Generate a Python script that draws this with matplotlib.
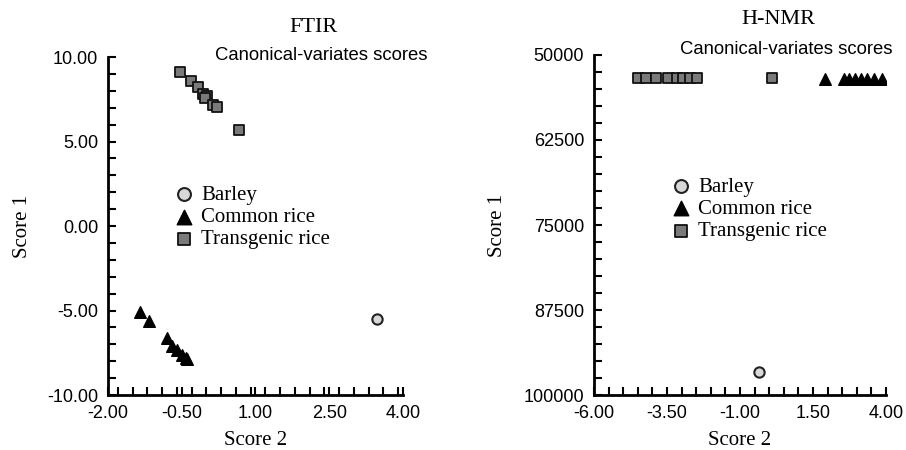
import numpy as np
import matplotlib.pyplot as plt
from matplotlib.ticker import MultipleLocator, FormatStrFormatter

# FTIR panel data
ftir_trans_x = [-0.54, -0.31, -0.17, -0.07, 0.01, -0.03, 0.13, 0.22, 0.66]
ftir_trans_y = [9.11, 8.58, 8.22, 7.81, 7.69, 7.57, 7.16, 7.04, 5.68]
ftir_common_x = [-1.35, -1.17, -0.80, -0.70, -0.60, -0.50, -0.41, -0.39]
ftir_common_y = [-5.09, -5.62, -6.63, -7.10, -7.34, -7.63, -7.81, -7.87]
ftir_barley_x = [3.47]
ftir_barley_y = [-5.50]

# H-NMR panel data
nmr_trans_x = [-4.49, -4.22, -3.88, -3.47, -3.16, -2.95, -2.71, -2.47, 0.10]
nmr_trans_y = [53400] * 9
nmr_common_x = [1.91, 2.55, 2.75, 2.95, 3.15, 3.35, 3.60, 3.86]
nmr_common_y = [53500] * 8
nmr_barley_x = [-0.35]
nmr_barley_y = [96600]

ftir_xticks = [-2.0, -0.5, 1.0, 2.5, 4.0]
ftir_yticks = [-10.0, -5.0, 0.0, 5.0, 10.0]
nmr_xticks = [-6.0, -3.5, -1.0, 1.5, 4.0]
nmr_yticks = [50000, 62500, 75000, 87500, 100000]

serif = ['Liberation Serif', 'DejaVu Serif']
sans = ['Liberation Sans', 'DejaVu Sans']

fig = plt.figure(figsize=(9.06, 4.5), dpi=100)
ax1 = fig.add_axes([0.1192, 0.1222, 0.3256, 0.7511])
ax2 = fig.add_axes([0.6556, 0.1222, 0.3223, 0.7556])


def style(ax, xstep, ystep):
    for s in ['top', 'right']:
        ax.spines[s].set_visible(False)
    for s in ['left', 'bottom']:
        ax.spines[s].set_linewidth(2)
    ax.xaxis.set_minor_locator(MultipleLocator(xstep))
    ax.yaxis.set_minor_locator(MultipleLocator(ystep))
    ax.tick_params(which='both', direction='in', length=6, width=1.5,
                   labelsize=13, pad=7)
    for lab in ax.get_xticklabels() + ax.get_yticklabels():
        lab.set_family(sans)


def draw(ax, bx, by, cx, cy, tx, ty):
    ax.scatter(bx, by, marker='o', s=55, facecolor='#d8d8d8',
               edgecolor='#222222', linewidth=1.5, label='Barley', zorder=3)
    ax.scatter(cx, cy, marker='^', s=70, color='black',
               label='Common rice', zorder=3)
    ax.scatter(tx, ty, marker='s', s=45, facecolor='#7a7a7a',
               edgecolor='#111111', linewidth=1.3, label='Transgenic rice',
               zorder=3)


def add_legend(ax, anchor):
    ax.legend(loc='upper left', bbox_to_anchor=anchor, frameon=False,
              prop={'family': serif, 'size': 15}, handletextpad=0.3,
              labelspacing=0.12, borderaxespad=0, handlelength=1.0,
              markerscale=1.25)


# left: FTIR
draw(ax1, ftir_barley_x, ftir_barley_y, ftir_common_x, ftir_common_y,
     ftir_trans_x, ftir_trans_y)
ax1.set_xlim(-2.0, 4.0)
ax1.set_ylim(-10.0, 10.0)
ax1.set_xticks(ftir_xticks)
ax1.set_yticks(ftir_yticks)
ax1.xaxis.set_major_formatter(FormatStrFormatter('%.2f'))
ax1.yaxis.set_major_formatter(FormatStrFormatter('%.2f'))
style(ax1, 0.3, 1.0)
ax1.set_xlabel('Score 2', family=serif, fontsize=15, labelpad=7)
ax1.set_ylabel('Score 1', family=serif, fontsize=15, labelpad=11)
add_legend(ax1, (0.195, 0.645))
fig.text(313 / 906, 1 - 27 / 450, 'FTIR', family=serif, fontsize=16,
         ha='center', va='center')
fig.text(215 / 906, 1 - 55 / 450, 'Canonical-variates scores', family=sans,
         fontsize=13.3, ha='left', va='center')

# right: H-NMR
draw(ax2, nmr_barley_x, nmr_barley_y, nmr_common_x, nmr_common_y,
     nmr_trans_x, nmr_trans_y)
ax2.set_xlim(-6.0, 4.0)
ax2.set_ylim(100000, 50000)
ax2.set_xticks(nmr_xticks)
ax2.set_yticks(nmr_yticks)
ax2.xaxis.set_major_formatter(FormatStrFormatter('%.2f'))
ax2.yaxis.set_major_formatter(FormatStrFormatter('%d'))
style(ax2, 0.5, 2500)
ax2.set_xlabel('Score 2', family=serif, fontsize=15, labelpad=7)
ax2.set_ylabel('Score 1', family=serif, fontsize=15, labelpad=12)
add_legend(ax2, (0.235, 0.665))
fig.text(778 / 906, 1 - 20 / 450, 'H-NMR', family=serif, fontsize=16,
         ha='center', va='center')
fig.text(680 / 906, 1 - 49 / 450, 'Canonical-variates scores', family=sans,
         fontsize=13.3, ha='left', va='center')

fig.savefig('out.png', dpi=100)
